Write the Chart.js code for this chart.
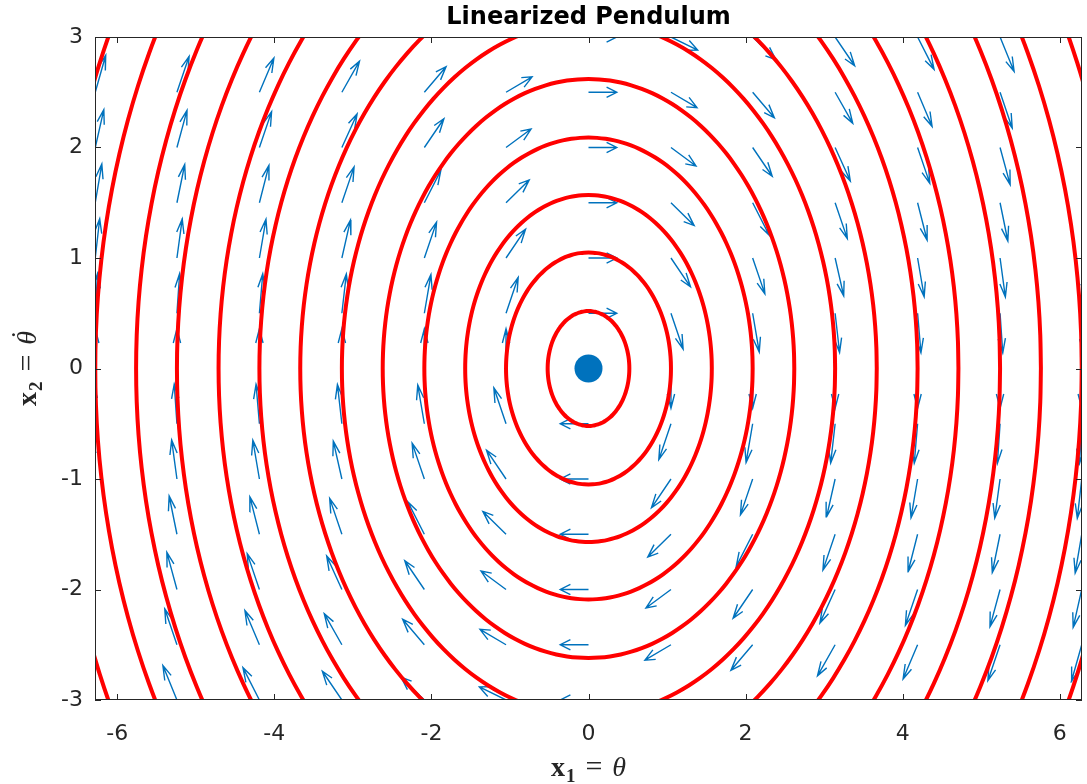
<!DOCTYPE html>
<html>
<head>
<meta charset="utf-8">
<title>Linearized Pendulum</title>
<script src="https://cdn.jsdelivr.net/npm/chart.js@4.4.1/dist/chart.umd.min.js"></script>
<style>
  html, body { margin: 0; padding: 0; background: #fff; overflow: hidden; }
  #wrap { width: 1087px; height: 784px; position: relative; }
  canvas { display: block; }
</style>
</head>
<body>
<div id="wrap"><canvas id="phaseChart" width="1087" height="784"></canvas></div>
<script>
// Phase portrait of the linearized pendulum: x1' = x2, x2' = -x1
const xLimits = [-6.2832, 6.2832];
const yLimits = [-3, 3];
const xTicks = [-6, -4, -2, 0, 2, 4, 6];
const yTicks = [-3, -2, -1, 0, 1, 2, 3];

// starting angles of the trajectories (pendulum released from rest)
const orbitStarts = [0.52, 1.05, 1.57, 2.09, 2.62, 3.14, 3.67, 4.19, 4.71, 5.24, 5.76, 6.28, 6.81];

// quiver grid and arrow length (data units, arrows normalised)
const quiverX = [-6.28, -5.24, -4.19, -3.14, -2.09, -1.05, 0, 1.05, 2.09, 3.14, 4.19, 5.24, 6.28];
const quiverY = [-3, -2.5, -2, -1.5, -1, -0.5, 0, 0.5, 1, 1.5, 2, 2.5, 3];
const arrowLength = 0.36;

const equilibrium = [{ x: 0, y: 0 }];

const BLUE = "#0072BD";
const AXIS = "#262626";

// closed trajectory through (r, 0)
function orbitPoints(r) {
  const pts = [];
  for (let deg = 0; deg <= 360; deg += 3) {
    const t = (deg * Math.PI) / 180;
    pts.push({ x: r * Math.cos(t), y: -r * Math.sin(t) });
  }
  return pts;
}

// shafts and heads of the direction field, segments split by gaps
function quiverPoints() {
  const pts = [];
  const a = 0.36, b = 0.36;
  quiverX.forEach((x1) => {
    quiverY.forEach((x2) => {
      const u = x2, v = -x1;
      const mag = Math.hypot(u, v);
      if (mag === 0) return;
      const du = (u / mag) * arrowLength;
      const dv = (v / mag) * arrowLength;
      const tx = x1 + du, ty = x2 + dv;
      pts.push({ x: x1, y: x2 }, { x: tx, y: ty }, { x: tx, y: null });
      pts.push(
        { x: tx - a * (du + b * dv), y: ty - a * (dv - b * du) },
        { x: tx, y: ty },
        { x: tx - a * (du - b * dv), y: ty - a * (dv + b * du) },
        { x: tx, y: null }
      );
    });
  });
  return pts;
}

// draws a run of text pieces centred on cx; "over" pieces sit on the previous glyph
function drawMath(ctx, parts, cx, baseline) {
  let width = 0;
  parts.forEach((p) => {
    ctx.font = p.font;
    p.tw = ctx.measureText(p.text).width;
    p.w = p.over ? 0 : p.tw + (p.pre || 0) + (p.post || 0);
    width += p.w;
  });
  let x = cx - width / 2;
  let prev = null;
  parts.forEach((p) => {
    ctx.font = p.font;
    if (p.over && prev) {
      const mid = prev.x + prev.tw / 2 + (p.dx || 0);
      ctx.fillText(p.text, mid - p.tw / 2, baseline + (p.dy || 0));
      return;
    }
    const gx = x + (p.pre || 0);
    ctx.fillText(p.text, gx, baseline + (p.dy || 0));
    prev = { x: gx, tw: p.tw };
    x += p.w;
  });
}

const SERIF = '"Liberation Serif", "DejaVu Serif", serif';

function axisLabelParts(sub, rhs, dotted) {
  const parts = [
    { text: "x", font: "bold 28px " + SERIF },
    { text: sub, font: "bold 19px " + SERIF, dy: 6, pre: 1 },
    { text: "=", font: "30px " + SERIF, pre: 10, post: 10 },
    { text: rhs, font: "italic 28px " + SERIF },
  ];
  if (dotted) parts.push({ text: "\u02D9", font: "28px " + SERIF, over: true, dx: 3, dy: -6 });
  return parts;
}

// box, inward ticks, title and axis labels
const axesFrame = {
  id: "axesFrame",
  afterDraw(chart) {
    const { ctx, chartArea: a, scales } = chart;
    ctx.save();
    ctx.strokeStyle = AXIS;
    ctx.lineWidth = 1;
    ctx.strokeRect(a.left + 0.5, a.top + 0.5, a.right - a.left - 1, a.bottom - a.top - 1);

    const tick = 6;
    ctx.beginPath();
    xTicks.forEach((v) => {
      const px = Math.round(scales.x.getPixelForValue(v)) + 0.5;
      ctx.moveTo(px, a.bottom);
      ctx.lineTo(px, a.bottom - tick);
      ctx.moveTo(px, a.top);
      ctx.lineTo(px, a.top + tick);
    });
    yTicks.forEach((v) => {
      const py = Math.round(scales.y.getPixelForValue(v)) + 0.5;
      ctx.moveTo(a.left, py);
      ctx.lineTo(a.left + tick, py);
      ctx.moveTo(a.right, py);
      ctx.lineTo(a.right - tick, py);
    });
    ctx.stroke();

    const cx = (a.left + a.right) / 2;
    ctx.fillStyle = "#000";
    ctx.textAlign = "left";
    ctx.textBaseline = "alphabetic";
    ctx.font = 'bold 24px "DejaVu Sans", sans-serif';
    const title = "Linearized Pendulum";
    ctx.fillText(title, cx - ctx.measureText(title).width / 2, 24);

    ctx.fillStyle = AXIS;
    drawMath(ctx, axisLabelParts("1", "θ", false), cx, 776);

    ctx.translate(36, (a.top + a.bottom) / 2);
    ctx.rotate(-Math.PI / 2);
    drawMath(ctx, axisLabelParts("2", "θ", true), 0, 0);
    ctx.restore();
  },
};

const tickFont = { family: '"DejaVu Sans", sans-serif', size: 22 };

new Chart(document.getElementById("phaseChart"), {
  type: "scatter",
  data: {
    datasets: [
      {
        label: "equilibrium",
        data: equilibrium,
        pointRadius: 14,
        pointHoverRadius: 14,
        backgroundColor: BLUE,
        borderWidth: 0,
        order: 0,
      },
      ...orbitStarts.map((r) => ({
        label: "orbit " + r,
        data: orbitPoints(r),
        showLine: true,
        tension: 0.3,
        pointRadius: 0,
        pointHoverRadius: 0,
        borderColor: "#ff0000",
        borderWidth: 4,
        fill: false,
        order: 1,
      })),
      {
        label: "direction field",
        data: quiverPoints(),
        showLine: true,
        spanGaps: false,
        pointRadius: 0,
        pointHoverRadius: 0,
        borderColor: BLUE,
        borderWidth: 1.4,
        fill: false,
        order: 2,
      },
    ],
  },
  options: {
    responsive: false,
    animation: false,
    events: [],
    layout: {
      autoPadding: false,
      padding: { top: 37, right: 5, bottom: 0, left: 0 },
    },
    plugins: {
      legend: { display: false },
      tooltip: { enabled: false },
      title: { display: false },
    },
    scales: {
      x: {
        type: "linear",
        min: xLimits[0],
        max: xLimits[1],
        afterBuildTicks: (s) => {
          s.ticks = xTicks.map((v) => ({ value: v }));
        },
        afterFit: (s) => {
          s.height = 84;
          s.paddingLeft = 0;
          s.paddingRight = 0;
        },
        grid: { display: false, drawTicks: false },
        border: { display: false },
        ticks: {
          autoSkip: false,
          maxRotation: 0,
          padding: 21,
          color: AXIS,
          font: tickFont,
          callback: (v) => String(v),
        },
      },
      y: {
        type: "linear",
        min: yLimits[0],
        max: yLimits[1],
        afterBuildTicks: (s) => {
          s.ticks = yTicks.map((v) => ({ value: v }));
        },
        afterFit: (s) => {
          s.width = 95;
          s.paddingTop = 0;
          s.paddingBottom = 0;
        },
        grid: { display: false, drawTicks: false },
        border: { display: false },
        ticks: {
          autoSkip: false,
          padding: 12,
          color: AXIS,
          font: tickFont,
          callback: (v) => String(v),
        },
      },
    },
  },
  plugins: [axesFrame],
});
</script>
</body>
</html>
